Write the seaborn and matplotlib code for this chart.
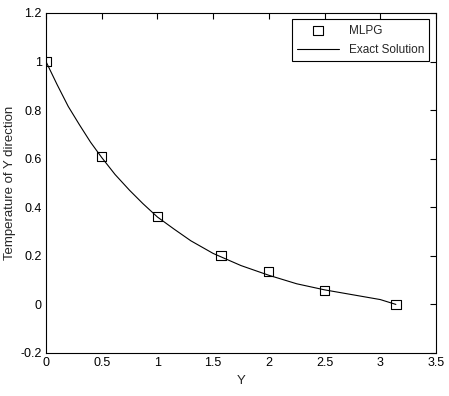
import numpy as np
import pandas as pd
import matplotlib
matplotlib.use("Agg")
import matplotlib.pyplot as plt
import seaborn as sns

# MLPG nodal results
mlpg_y = [0.0, 0.5, 1.0, 1.57, 2.0, 2.5, 3.14]
mlpg_t = [1.0, 0.61, 0.363, 0.202, 0.135, 0.058, 0.0]

# exact solution
exact_y = [0.0, 0.1, 0.2, 0.3, 0.4, 0.5, 0.62, 0.75, 0.87, 1.0, 1.15, 1.3,
           1.5, 1.75, 2.0, 2.25, 2.5, 2.75, 3.0, 3.14]
exact_t = [1.0, 0.905, 0.815, 0.74, 0.668, 0.605, 0.535, 0.47, 0.415, 0.36,
           0.31, 0.262, 0.21, 0.16, 0.12, 0.085, 0.06, 0.04, 0.02, 0.0]

sns.set_style("white")
plt.rcParams["font.family"] = ["Liberation Sans", "DejaVu Sans"]

fig = plt.figure(figsize=(4.49, 3.96), dpi=100)
ax = fig.add_axes([0.1024, 0.1086, 0.8686, 0.8586])

sns.lineplot(x=exact_y, y=exact_t, ax=ax, color="black", lw=0.8,
             label="Exact Solution", legend=False)
sns.scatterplot(x=mlpg_y, y=mlpg_t, ax=ax, marker="s", s=45,
                facecolor="none", edgecolor="black", linewidth=0.8,
                label="MLPG", legend=False, zorder=3)

ax.set_xlim(0, 3.5)
ax.set_ylim(-0.2, 1.2)
ax.set_xticks(np.arange(0, 3.51, 0.5))
ax.set_xticklabels(["0", "0.5", "1", "1.5", "2", "2.5", "3", "3.5"])
ax.set_yticks(np.arange(-0.2, 1.21, 0.2))
ax.set_yticklabels(["-0.2", "0", "0.2", "0.4", "0.6", "0.8", "1", "1.2"])
ax.tick_params(direction="in", top=True, right=True, length=4, width=0.8,
               labelsize=9, colors="black", pad=3)
for s in ax.spines.values():
    s.set_color("black")
    s.set_linewidth(0.8)
ax.set_xlabel("Y", fontsize=9.5, labelpad=4)
ax.set_ylabel("Temperature of Y direction", fontsize=9.5, labelpad=3)

h, l = ax.get_legend_handles_labels()
order = [l.index("MLPG"), l.index("Exact Solution")]
leg = ax.legend([h[i] for i in order], [l[i] for i in order], loc="upper right",
                fontsize=8.5, fancybox=False, framealpha=1, edgecolor="black",
                borderaxespad=0.55, handlelength=3.6, labelspacing=0.6,
                borderpad=0.45)
leg.get_frame().set_linewidth(0.8)

fig.savefig("out.png", dpi=100)
